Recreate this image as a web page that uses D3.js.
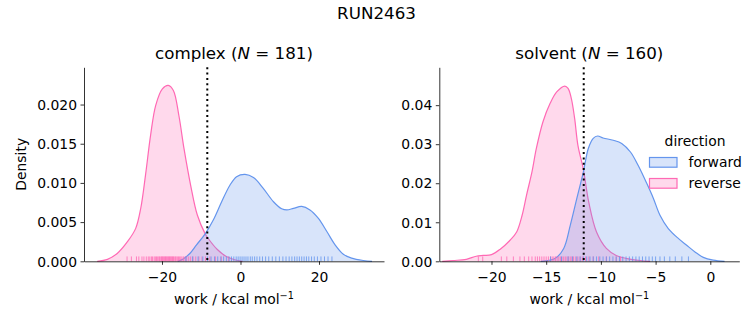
<!DOCTYPE html>
<html>
<head>
<meta charset="utf-8">
<script src="https://cdn.jsdelivr.net/npm/d3@7"></script>
<style>
  body { margin: 0; background: #fff; }
  svg { display: block; }
  text { font-family: "DejaVu Sans", sans-serif; fill: #000; }
</style>
</head>
<body>
<svg id="chart" width="753" height="325"></svg>
<script>
// ---------------- data ----------------
const figureTitle = "RUN2463";
const seriesNames = ["forward", "reverse"];
const seriesColors = ["#6495ED", "#FF69B4"];

// complex panel
const complexN = 181;
const complexDeltaG = -8.46;
const complexForwardCurve = [[-16,0],[-14.6,0.0003],[-12.9,0.001],[-11.2,0.0021],[-9.0,0.0035],[-6.9,0.0053],[-4.8,0.0076],[-2.7,0.0097],[-1.0,0.0108],[1.15,0.0111],[3.3,0.0107],[5.8,0.0093],[8.4,0.0076],[10.5,0.0067],[11.8,0.00655],[13.5,0.00675],[15.6,0.0070],[17.7,0.00655],[19.8,0.0055],[22.0,0.0038],[24.1,0.0021],[26.2,0.0009],[28.3,0.0004],[31.3,0.0001],[33.5,0]];
const complexReverseCurve = [[-36.5,0],[-33.9,0.00025],[-31.4,0.001],[-28.8,0.0025],[-26.7,0.0042],[-25.4,0.0068],[-24.2,0.011],[-22.9,0.0161],[-21.6,0.0199],[-19.9,0.022],[-18.4,0.02245],[-17.1,0.0218],[-15.7,0.0186],[-14.4,0.0144],[-12.7,0.0097],[-11.0,0.0059],[-9.0,0.0035],[-8.5,0.0031],[-5.9,0.0015],[-3.6,0.0006],[-1.5,0.0002],[0.5,0]];
const complexForwardWork = [-13.9,-12.2,-10.8,-9.6,-8.4,-7.5,-6.6,-5.8,-5.0,-4.3,-3.6,-2.9,-2.3,-1.7,-1.1,-0.6,-0.1,0.4,0.9,1.4,1.9,2.5,3.0,3.6,4.2,4.9,5.6,6.4,7.2,8.1,9.0,9.9,10.8,11.6,12.4,13.1,13.8,14.4,15.0,15.6,16.2,16.8,17.4,18.1,18.8,19.6,20.5,21.4,22.3,23.3];
const complexReverseWork = [-28.9,-27.8,-26.5,-25.9,-25.1,-24.6,-24.0,-23.5,-23.1,-22.7,-22.4,-22.0,-21.7,-21.4,-21.1,-20.8,-20.6,-20.3,-20.1,-19.9,-19.7,-19.5,-19.3,-19.1,-18.9,-18.7,-18.5,-18.3,-18.1,-17.9,-17.7,-17.5,-17.3,-17.1,-16.9,-16.6,-16.4,-16.1,-15.8,-15.5,-15.2,-14.9,-14.5,-14.1,-13.7,-13.2,-12.7,-12.1,-11.4,-10.6,-9.8,-8.9,-7.8,-6.4,-4.9,-3.1];
const complexXTicks = [-20, 0, 20];
const complexYTicks = [0, 0.005, 0.010, 0.015, 0.020];
const complexXDomain = [-39.87, 36.56];
const complexYDomain = [0, 0.02475];

// solvent panel
const solventN = 160;
const solventDeltaG = -11.57;
const solventForwardCurve = [[-15.5,0],[-14.2,0.0007],[-13.4,0.0033],[-12.8,0.0092],[-12.2,0.0161],[-11.6,0.0229],[-11.15,0.0289],[-10.7,0.0315],[-10.3,0.0321],[-9.8,0.0316],[-8.87,0.031],[-8.1,0.0302],[-7.3,0.028],[-6.6,0.0246],[-5.8,0.0199],[-5.2,0.0161],[-4.6,0.0118],[-3.84,0.0084],[-2.9,0.0058],[-2.16,0.0041],[-1.4,0.0024],[-0.64,0.001],[0.27,0.0003],[1.3,0]];
const solventReverseCurve = [[-24.5,0],[-23.5,0.0002],[-22.3,0.0005],[-21.4,0.0013],[-20.75,0.0015],[-20.0,0.0017],[-19.2,0.0031],[-18.3,0.0054],[-17.7,0.0075],[-17.2,0.0118],[-16.8,0.0169],[-16.3,0.0229],[-15.9,0.0289],[-15.3,0.0357],[-14.65,0.0404],[-14.04,0.0434],[-13.3,0.0449],[-13.0,0.0443],[-12.7,0.0417],[-12.4,0.0366],[-12.1,0.0297],[-11.6,0.0235],[-11.1,0.0150],[-10.4,0.0075],[-9.5,0.0033],[-8.6,0.0015],[-7.6,0.0007],[-6.4,0.0002],[-5.5,0]];
const solventForwardWork = [-14.6,-13.6,-13.0,-12.6,-12.2,-11.9,-11.6,-11.3,-11.0,-10.7,-10.4,-10.1,-9.8,-9.5,-9.2,-8.9,-8.6,-8.3,-8.0,-7.7,-7.4,-7.1,-6.8,-6.5,-6.2,-5.9,-5.6,-5.3,-5.0,-4.6,-4.2,-3.7,-3.2,-2.6,-2.0];
const solventReverseWork = [-21.2,-20.8,-19.1,-18.6,-18.0,-17.4,-17.0,-16.6,-16.3,-16.0,-15.8,-15.6,-15.4,-15.2,-15.0,-14.8,-14.6,-14.45,-14.3,-14.15,-14.0,-13.85,-13.7,-13.55,-13.4,-13.25,-13.1,-12.95,-12.8,-12.65,-12.5,-12.3,-12.1,-11.9,-11.7,-11.4,-11.1,-10.7,-10.2,-9.5,-8.6,-8.2];
const solventXTicks = [-20, -15, -10, -5, 0];
const solventYTicks = [0, 0.01, 0.02, 0.03, 0.04];
const solventXDomain = [-24.77, 2.65];
const solventYDomain = [0, 0.0497];

// ---------------- drawing ----------------
const svg = d3.select("#chart");
svg.append("rect").attr("width", 753).attr("height", 325).attr("fill", "#fff");

const FS = 13.9;
const axTop = 67.3, axBottom = 261.3;

svg.append("text").attr("x", 376.5).attr("y", 19).attr("text-anchor", "middle")
  .style("font-size", "16.7px").text(figureTitle);

function panel(opts) {
  const x = d3.scaleLinear().domain(opts.xDomain).range([opts.left, opts.left + 300]);
  const y = d3.scaleLinear().domain(opts.yDomain).range([axBottom, axTop]);
  const g = svg.append("g");
  const cv = d3.curveCatmullRom.alpha(0.5);

  const area = d3.area().x(d => x(d[0])).y0(y(0)).y1(d => Math.min(y(0), y(d[1]))).curve(cv);
  const line = d3.line().x(d => x(d[0])).y(d => y(d[1])).curve(cv);

  // reverse first, forward on top
  [[opts.revCurve, 1], [opts.fwdCurve, 0]].forEach(([c, i]) => {
    g.append("path").attr("d", area(c)).attr("fill", seriesColors[i]).attr("fill-opacity", 0.25);
    g.append("path").attr("d", line(c)).attr("fill", "none").attr("stroke", seriesColors[i]).attr("stroke-width", 1.2);
  });

  // rugs
  const rugH = (axBottom - axTop) * 0.025;
  [[opts.revWork, 1], [opts.fwdWork, 0]].forEach(([w, i]) => {
    g.selectAll(null).data(w).enter().append("line")
      .attr("x1", d => x(d)).attr("x2", d => x(d))
      .attr("y1", axBottom).attr("y2", axBottom - rugH)
      .attr("stroke", seriesColors[i]).attr("stroke-width", 1).attr("stroke-opacity", 0.8);
  });

  // dotted vertical line
  g.append("line").attr("x1", x(opts.dg)).attr("x2", x(opts.dg))
    .attr("y1", axTop).attr("y2", axBottom)
    .attr("stroke", "#000").attr("stroke-width", 2).attr("stroke-dasharray", "2,3.3");

  // axes
  const xa = g.append("g").attr("transform", `translate(0,${axBottom})`)
    .call(d3.axisBottom(x).tickValues(opts.xTicks).tickSize(3.5).tickSizeOuter(0).tickPadding(3.5)
      .tickFormat(d => d3.format("d")(d)));
  const ya = g.append("g").attr("transform", `translate(${opts.left},0)`)
    .call(d3.axisLeft(y).tickValues(opts.yTicks).tickSize(3.5).tickSizeOuter(0).tickPadding(3.5)
      .tickFormat(d3.format(opts.yFmt)));
  [xa, ya].forEach(a => {
    a.select(".domain").attr("stroke", "#000").attr("stroke-width", 0.8);
    a.selectAll(".tick line").attr("stroke", "#000").attr("stroke-width", 0.8);
    a.selectAll("text").style("font-size", FS + "px").style("font-family", "DejaVu Sans").attr("fill", "#000");
  });
  xa.selectAll("text").attr("dy", "1.0em");
  ya.selectAll("text").attr("dy", "0.34em");

  // title
  const cx = opts.left + 150;
  const t = svg.append("text").attr("x", cx).attr("y", 58.5).attr("text-anchor", "middle").style("font-size", "16.7px");
  t.append("tspan").text(opts.name + " (");
  t.append("tspan").style("font-style", "italic").text("N");
  t.append("tspan").text(" = " + opts.n + ")");

  // x label
  const xl = svg.append("text").attr("x", cx).attr("y", 304).attr("text-anchor", "middle").style("font-size", FS + "px");
  xl.append("tspan").text("work / kcal mol");
  xl.append("tspan").attr("dy", -5.5).style("font-size", "9.7px").text("\u22121");
}

panel({ left: 84, xDomain: complexXDomain, yDomain: complexYDomain, fwdCurve: complexForwardCurve, revCurve: complexReverseCurve,
  fwdWork: complexForwardWork, revWork: complexReverseWork, dg: complexDeltaG, xTicks: complexXTicks, yTicks: complexYTicks,
  yFmt: ".3f", name: "complex", n: complexN });
panel({ left: 439.3, xDomain: solventXDomain, yDomain: solventYDomain, fwdCurve: solventForwardCurve, revCurve: solventReverseCurve,
  fwdWork: solventForwardWork, revWork: solventReverseWork, dg: solventDeltaG, xTicks: solventXTicks, yTicks: solventYTicks,
  yFmt: ".2f", name: "solvent", n: solventN });

// y label
svg.append("text").attr("transform", "translate(25.5,164.3) rotate(-90)").attr("text-anchor", "middle")
  .style("font-size", FS + "px").text("Density");

// legend
const lg = svg.append("g");
lg.append("text").attr("x", 695).attr("y", 145.5).attr("text-anchor", "middle").style("font-size", FS + "px").text("direction");
seriesNames.forEach((name, i) => {
  const yy = 157.5 + i * 21;
  lg.append("rect").attr("x", 649.5).attr("y", yy).attr("width", 27.5).attr("height", 9.7)
    .attr("fill", seriesColors[i]).attr("fill-opacity", 0.25).attr("stroke", seriesColors[i]).attr("stroke-width", 1.2);
  lg.append("text").attr("x", 688.5).attr("y", yy + 9).style("font-size", FS + "px").text(name);
});
</script>
</body>
</html>
